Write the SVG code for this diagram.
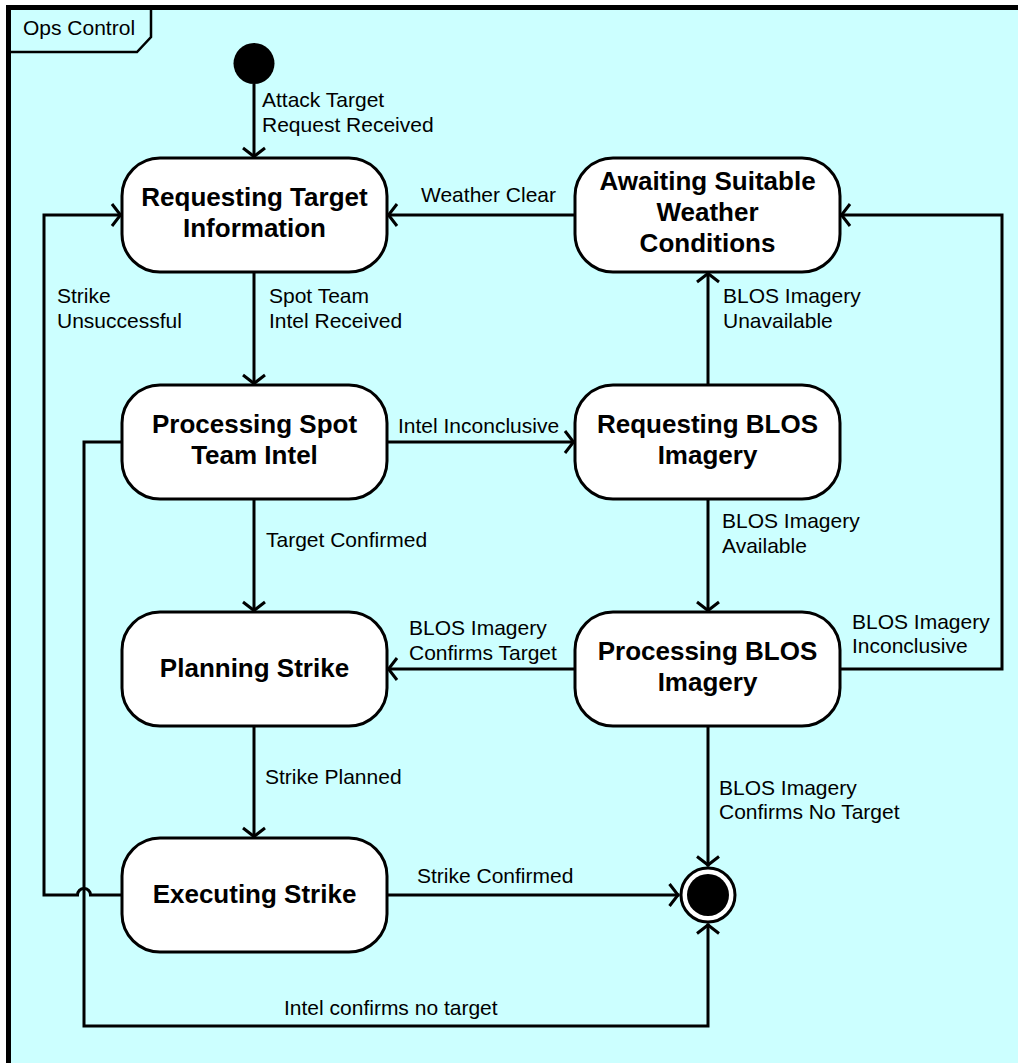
<svg xmlns="http://www.w3.org/2000/svg" width="1018" height="1063" viewBox="0 0 1018 1063">
<style>
.frame{fill:#CCFFFF;stroke:#000;stroke-width:5}
.tab{fill:none;stroke:#000;stroke-width:2.5}
.node rect{fill:#fff;stroke:#000;stroke-width:3}
.nt{font-family:"Liberation Sans",Arial,sans-serif;font-weight:bold;font-size:26px;text-anchor:middle;fill:#000}
.lbl{font-family:"Liberation Sans",Arial,sans-serif;font-size:21px;fill:#000}
.conn path{fill:none;stroke:#000;stroke-width:3;marker-end:url(#arr)}
</style>
<defs>
<marker id="arr" markerUnits="userSpaceOnUse" markerWidth="30" markerHeight="30" viewBox="-15 -15 30 30" refX="0" refY="0" orient="auto" overflow="visible">
<path d="M-10,-11 L-1.5,0 L-10,11" fill="none" stroke="#000" stroke-width="3"/>
</marker>
</defs>
<rect class="frame" x="8.5" y="7.5" width="1040" height="1090"/>
<path class="tab" d="M10,52 H137 L151,37 V10"/>
<text class="lbl" x="23" y="35">Ops Control</text>

<g id="connectors" class="conn">
<path d="M254,84 V158"/>
<path d="M575,215 H387"/>
<path d="M254,272 V385"/>
<path d="M387,442 H575"/>
<path d="M254,499 V612"/>
<path d="M254,726 V838"/>
<path d="M708,385 V272"/>
<path d="M708,499 V612"/>
<path d="M575,669 H387"/>
<path d="M840,669 H1002 V215 H840"/>
<path d="M708,726 V866.5"/>
<path d="M387,895 H679.5"/>
<path d="M122,442 H84 V1026 H708 V923.5"/>
<path d="M122,895 H90.5 A6.5,6.5 0 0 0 77.5,895 H44 V215 H122"/>
</g>

<g id="labels">
<text class="lbl" x="262" y="107">Attack Target</text>
<text class="lbl" x="262" y="132">Request Received</text>
<text class="lbl" x="421" y="202">Weather Clear</text>
<text class="lbl" x="269" y="303">Spot Team</text>
<text class="lbl" x="269" y="328">Intel Received</text>
<text class="lbl" x="57" y="303">Strike</text>
<text class="lbl" x="57" y="328">Unsuccessful</text>
<text class="lbl" x="723" y="303">BLOS Imagery</text>
<text class="lbl" x="723" y="328">Unavailable</text>
<text class="lbl" x="398" y="433">Intel Inconclusive</text>
<text class="lbl" x="266" y="547">Target Confirmed</text>
<text class="lbl" x="722" y="528">BLOS Imagery</text>
<text class="lbl" x="722" y="553">Available</text>
<text class="lbl" x="409" y="635">BLOS Imagery</text>
<text class="lbl" x="409" y="660">Confirms Target</text>
<text class="lbl" x="852" y="629">BLOS Imagery</text>
<text class="lbl" x="852" y="653">Inconclusive</text>
<text class="lbl" x="265" y="784">Strike Planned</text>
<text class="lbl" x="719" y="795">BLOS Imagery</text>
<text class="lbl" x="719" y="819">Confirms No Target</text>
<text class="lbl" x="417" y="883">Strike Confirmed</text>
<text class="lbl" x="284" y="1015">Intel confirms no target</text>
</g>

<g id="initial">
<circle cx="254" cy="63.5" r="20.5" fill="#000"/>
</g>

<g id="requesting-target" class="node">
<rect x="122" y="158" width="265" height="114" rx="38" ry="38"/>
<text class="nt" x="254.5" y="206">Requesting Target</text>
<text class="nt" x="254.5" y="237">Information</text>
</g>

<g id="awaiting-weather" class="node">
<rect x="575" y="158" width="265" height="114" rx="38" ry="38"/>
<text class="nt" x="707.5" y="190">Awaiting Suitable</text>
<text class="nt" x="707.5" y="221">Weather</text>
<text class="nt" x="707.5" y="252">Conditions</text>
</g>

<g id="processing-spot" class="node">
<rect x="122" y="385" width="265" height="114" rx="38" ry="38"/>
<text class="nt" x="254.5" y="433">Processing Spot</text>
<text class="nt" x="254.5" y="464">Team Intel</text>
</g>

<g id="requesting-blos" class="node">
<rect x="575" y="385" width="265" height="114" rx="38" ry="38"/>
<text class="nt" x="707.5" y="433">Requesting BLOS</text>
<text class="nt" x="707.5" y="464">Imagery</text>
</g>

<g id="planning-strike" class="node">
<rect x="122" y="612" width="265" height="114" rx="38" ry="38"/>
<text class="nt" x="254.5" y="677">Planning Strike</text>
</g>

<g id="processing-blos" class="node">
<rect x="575" y="612" width="265" height="114" rx="38" ry="38"/>
<text class="nt" x="707.5" y="660">Processing BLOS</text>
<text class="nt" x="707.5" y="691">Imagery</text>
</g>

<g id="executing-strike" class="node">
<rect x="122" y="838" width="265" height="114" rx="38" ry="38"/>
<text class="nt" x="254.5" y="903">Executing Strike</text>
</g>

<g id="final">
<circle cx="708" cy="895" r="27" fill="#fff" stroke="#000" stroke-width="3"/>
<circle cx="708" cy="895" r="21" fill="#000"/>
</g>
</svg>
